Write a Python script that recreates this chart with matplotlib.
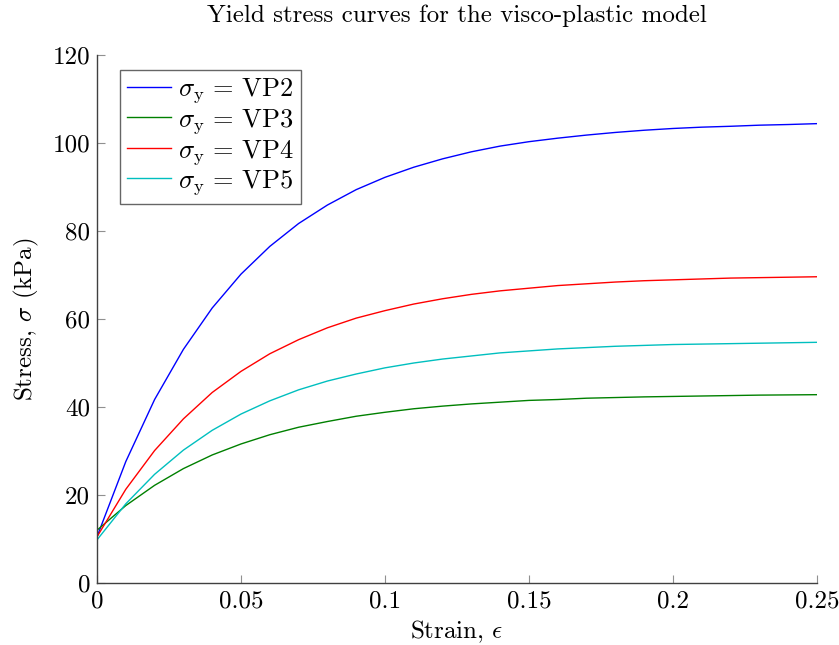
import matplotlib
matplotlib.use("Agg")
import matplotlib.pyplot as plt

plt.rcParams['font.family'] = 'cmr10'
plt.rcParams['mathtext.fontset'] = 'cm'
plt.rcParams['axes.formatter.use_mathtext'] = True

strain = [0.00, 0.01, 0.02, 0.03, 0.04, 0.05, 0.06, 0.07, 0.08, 0.09, 0.10,
          0.11, 0.12, 0.13, 0.14, 0.15, 0.16, 0.17, 0.18, 0.19, 0.20,
          0.21, 0.22, 0.23, 0.24, 0.25]

vp2 = [10.5, 27.6, 41.7, 53.1, 62.5, 70.2, 76.5, 81.7, 85.9, 89.4, 92.2,
       94.5, 96.4, 98.0, 99.3, 100.3, 101.1, 101.8, 102.4, 102.9, 103.3,
       103.6, 103.8, 104.05, 104.2, 104.4]
vp3 = [12.0, 17.6, 22.2, 26.0, 29.1, 31.6, 33.7, 35.4, 36.7, 37.9, 38.8,
       39.6, 40.2, 40.7, 41.1, 41.5, 41.7, 42.0, 42.15, 42.3, 42.4,
       42.5, 42.6, 42.7, 42.75, 42.8]
vp4 = [10.5, 21.3, 30.1, 37.3, 43.3, 48.1, 52.1, 55.3, 58.0, 60.2, 61.9,
       63.4, 64.6, 65.6, 66.4, 67.0, 67.6, 68.0, 68.4, 68.7, 68.9,
       69.1, 69.3, 69.4, 69.5, 69.6]
vp5 = [9.8, 18.0, 24.7, 30.2, 34.7, 38.4, 41.4, 43.9, 45.9, 47.5, 48.9,
       50.0, 50.9, 51.6, 52.3, 52.75, 53.2, 53.5, 53.8, 54.0, 54.2,
       54.3, 54.4, 54.5, 54.6, 54.7]

series_labels = [r'$\sigma_{\mathrm{y}}\, = \,\mathrm{VP2}$',
                 r'$\sigma_{\mathrm{y}}\, = \,\mathrm{VP3}$',
                 r'$\sigma_{\mathrm{y}}\, = \,\mathrm{VP4}$',
                 r'$\sigma_{\mathrm{y}}\, = \,\mathrm{VP5}$']
series_colors = ['#0000ff', '#008000', '#ff0000', '#00bfbf']

xticks = [0, 0.05, 0.1, 0.15, 0.2, 0.25]
xticklabels = ['0', '0.05', '0.1', '0.15', '0.2', '0.25']
yticks = [0, 20, 40, 60, 80, 100, 120]
yticklabels = ['0', '20', '40', '60', '80', '100', '120']

fig = plt.figure(figsize=(8.39, 6.45), dpi=100)
ax = fig.add_axes([97/839, 62/645, 720/839, 528/645])

for ys, lab, col in zip([vp2, vp3, vp4, vp5], series_labels, series_colors):
    ax.plot(strain, ys, color=col, lw=1.0, label=lab)

ax.set_xlim(0, 0.25)
ax.set_ylim(0, 120)
ax.set_xticks(xticks)
ax.set_xticklabels(xticklabels)
ax.set_yticks(yticks)
ax.set_yticklabels(yticklabels)

for s in ['top', 'right']:
    ax.spines[s].set_visible(False)
for s in ['left', 'bottom']:
    ax.spines[s].set_linewidth(1.0)
    ax.spines[s].set_color('#404040')

ax.tick_params(direction='in', length=6, width=0.8, color='#909090',
               labelsize=18, pad=5, labelcolor='black')

ax.set_xlabel(r'Strain, $\epsilon$', fontsize=18, labelpad=5)
ax.set_ylabel(r'Stress, $\sigma$ (kPa)', fontsize=18, labelpad=8)
ax.set_title('Yield stress curves for the visco-plastic model', fontsize=18, pad=24)

leg = ax.legend(loc='upper left', bbox_to_anchor=(0.032, 0.972), fontsize=19,
                frameon=True, fancybox=False, edgecolor='#404040',
                handlelength=1.7, handletextpad=0.25, borderpad=0.25,
                labelspacing=0.06, borderaxespad=0.0)
leg.get_frame().set_linewidth(1.0)

fig.savefig('out.png', dpi=100)
